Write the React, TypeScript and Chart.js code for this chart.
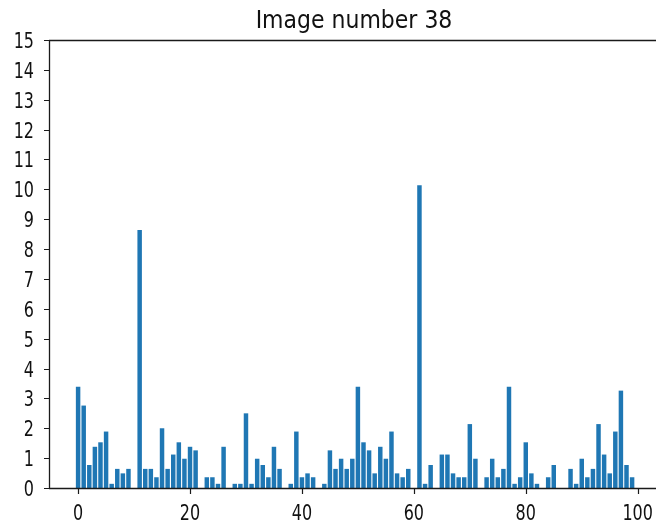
import React, { useEffect, useRef } from "react";
import { Chart, registerables } from "chart.js";

Chart.register(...registerables);

const TITLE = "Image number 38";
const values: number[] = [
  3.39, 2.76, 0.77, 1.38, 1.53, 1.89, 0.14, 0.64, 0.49, 0.64,
  0, 8.64, 0.64, 0.64, 0.36, 2.0, 0.64, 1.12, 1.53, 0.98,
  1.38, 1.26, 0, 0.36, 0.36, 0.14, 1.38, 0, 0.14, 0.14,
  2.5, 0.14, 0.98, 0.77, 0.36, 1.38, 0.64, 0, 0.14, 1.89,
  0.36, 0.49, 0.36, 0, 0.14, 1.26, 0.64, 0.98, 0.64, 0.98,
  3.39, 1.53, 1.26, 0.49, 1.38, 0.98, 1.89, 0.49, 0.36, 0.64,
  0, 10.14, 0.14, 0.77, 0, 1.12, 1.12, 0.49, 0.36, 0.36,
  2.14, 0.98, 0, 0.36, 0.98, 0.36, 0.64, 3.39, 0.14, 0.36,
  1.53, 0.49, 0.14, 0, 0.36, 0.77, 0, 0, 0.64, 0.14,
  0.98, 0.36, 0.64, 2.14, 1.12, 0.49, 1.89, 3.26, 0.77, 0.36,
];
const categories: number[] = values.map((_, i) => i);
const xTicks: number[] = [0, 20, 40, 60, 80, 100];
const yTicks: number[] = [0, 1, 2, 3, 4, 5, 6, 7, 8, 9, 10, 11, 12, 13, 14, 15];

const TEXT = "#111";

function drawText(
  ctx: CanvasRenderingContext2D,
  text: string,
  x: number,
  y: number,
  size: number,
  sy: number,
  align: CanvasTextAlign
) {
  ctx.save();
  ctx.translate(x, y);
  ctx.scale(1, sy);
  ctx.font = `${size}px "DejaVu Sans"`;
  ctx.fillStyle = TEXT;
  ctx.textAlign = align;
  ctx.textBaseline = "alphabetic";
  ctx.fillText(text, 0, 0);
  ctx.restore();
}

const decorPlugin = {
  id: "decor",
  afterDraw(chart: any) {
    const ctx: CanvasRenderingContext2D = chart.ctx;
    const { left, right, top, bottom } = chart.chartArea;
    const xs = chart.scales.x;
    const ys = chart.scales.y;
    // spines
    ctx.save();
    ctx.strokeStyle = "#1a1a1a";
    ctx.lineWidth = 1.3;
    ctx.beginPath();
    ctx.moveTo(left + 0.5, top);
    ctx.lineTo(left + 0.5, bottom + 0.5);
    ctx.moveTo(left, top + 0.5);
    ctx.lineTo(right + 2, top + 0.5);
    ctx.moveTo(left, bottom + 0.5);
    ctx.lineTo(right + 2, bottom + 0.5);
    ctx.stroke();
    // tick marks
    ctx.lineWidth = 1.2;
    ctx.beginPath();
    yTicks.forEach((v) => {
      const py = Math.round(ys.getPixelForValue(v)) + 0.5;
      ctx.moveTo(left - 5, py);
      ctx.lineTo(left, py);
    });
    xTicks.forEach((v) => {
      const px = Math.round(xs.getPixelForValue(v)) + 0.5;
      ctx.moveTo(px, bottom);
      ctx.lineTo(px, bottom + 6);
    });
    ctx.stroke();
    ctx.restore();
    // tick labels
    yTicks.forEach((v) => {
      const py = ys.getPixelForValue(v);
      drawText(ctx, String(v), left - 15, py + 8, 16, 1.37, "right");
    });
    xTicks.forEach((v) => {
      const px = xs.getPixelForValue(v);
      drawText(ctx, String(v), px, 520, 16, 1.37, "center");
    });
    // title
    drawText(ctx, TITLE, 354, 28.3, 22, 1.13, "center");
  },
};

export default function App() {
  const ref = useRef<HTMLCanvasElement | null>(null);
  useEffect(() => {
    if (!ref.current) return;
    const chart = new Chart(ref.current, {
      type: "bar",
      data: {
        datasets: [
          {
            data: categories.map((c, i) => ({ x: c, y: values[i] })),
            backgroundColor: "#1f77b4",
            borderWidth: 0,
            barPercentage: 0.8,
            categoryPercentage: 1,
          } as any,
        ],
      },
      options: {
        animation: false,
        responsive: false,
        devicePixelRatio: 1,
        layout: { padding: { top: 40, left: 0, right: 0, bottom: 0 } },
        plugins: {
          legend: { display: false },
          title: { display: false },
          tooltip: { enabled: false },
        },
        scales: {
          x: {
            type: "linear",
            min: -5.2,
            max: 103.27,
            offset: false,
            grid: { display: false },
            border: { display: false },
            ticks: { display: false },
            afterBuildTicks: (s: any) => {
              s.ticks = xTicks.map((v) => ({ value: v }));
            },
            afterFit: (s: any) => {
              s.height = 35;
            },
          },
          y: {
            type: "linear",
            min: 0,
            max: 15,
            grid: { display: false },
            border: { display: false },
            ticks: { display: false },
            afterBuildTicks: (s: any) => {
              s.ticks = yTicks.map((v) => ({ value: v }));
            },
            afterFit: (s: any) => {
              s.width = 49;
            },
          },
        },
      } as any,
      plugins: [decorPlugin],
    });
    return () => chart.destroy();
  }, []);
  return (
    <canvas
      ref={ref}
      width={656}
      height={523}
      style={{ position: "fixed", left: 0, top: 0, width: 656, height: 523, background: "#fff" }}
    />
  );
}
